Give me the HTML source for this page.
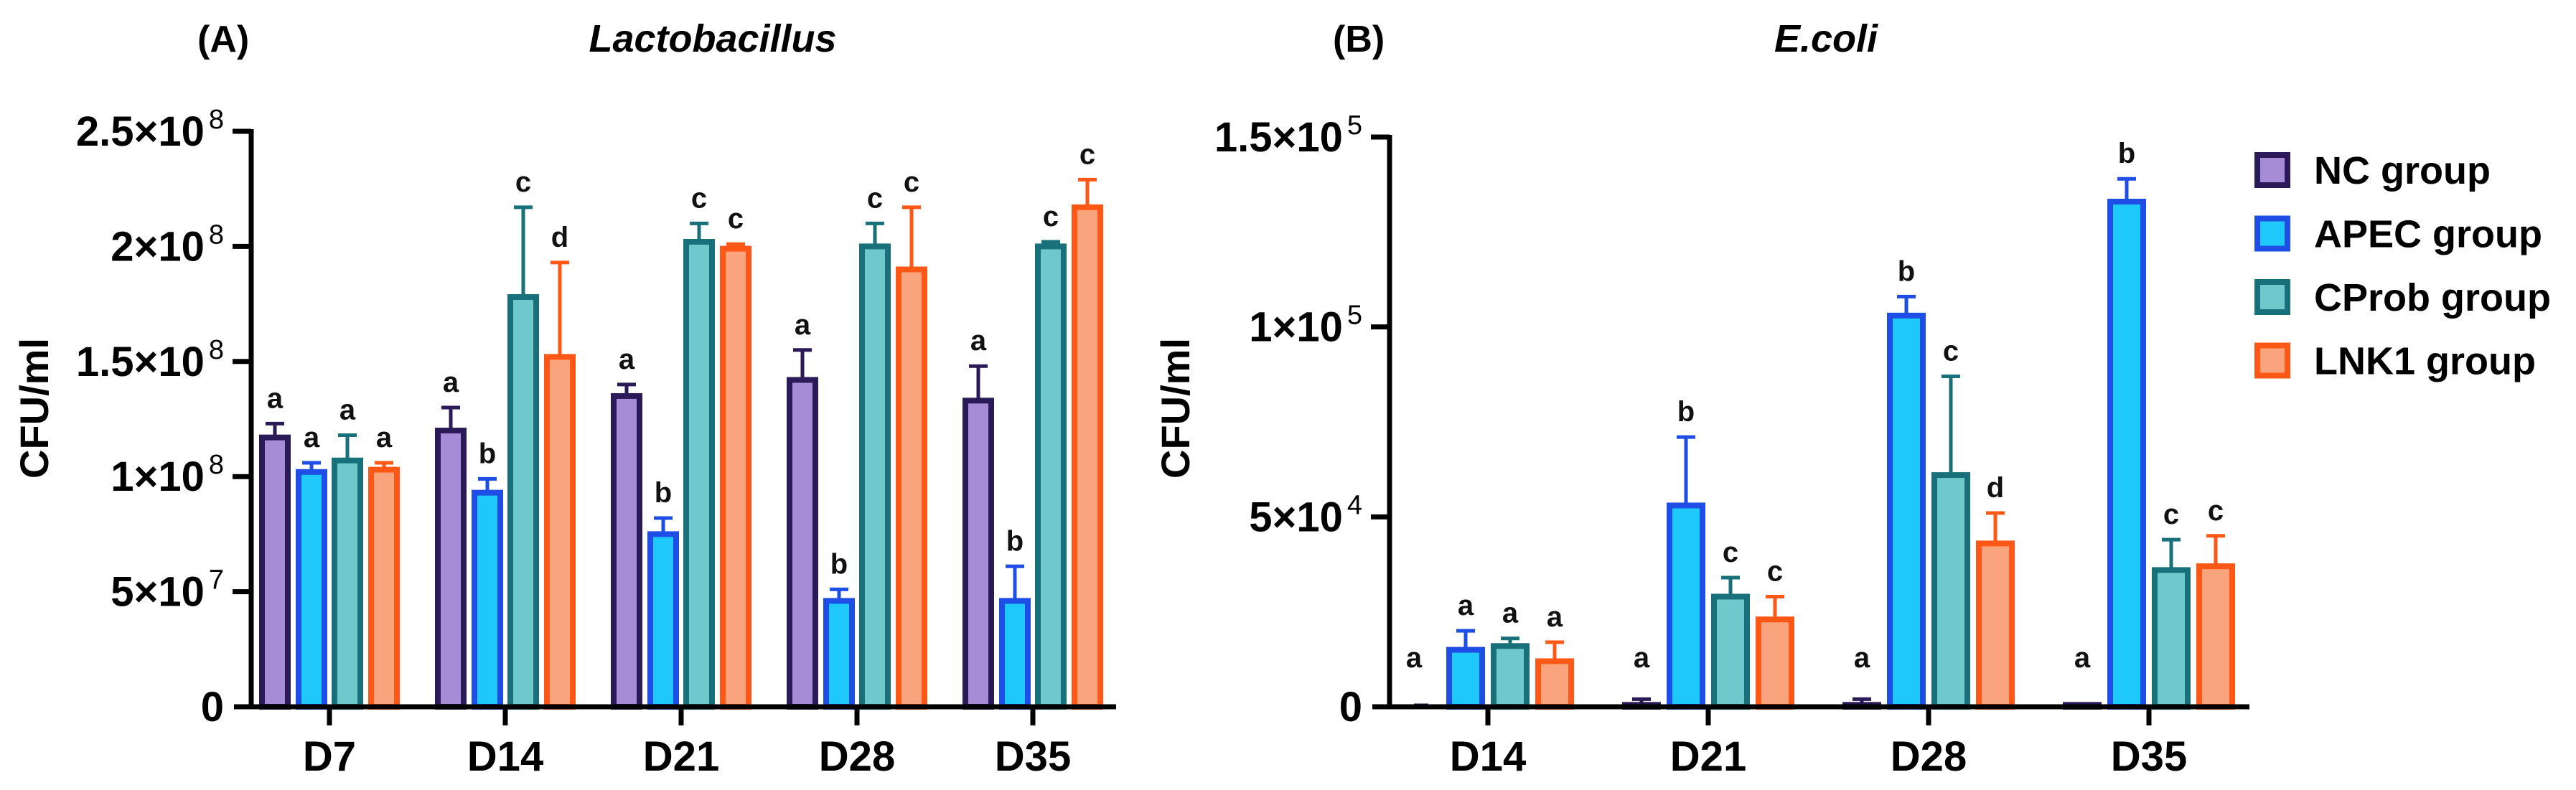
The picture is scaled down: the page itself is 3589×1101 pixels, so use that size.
<!DOCTYPE html>
<html><head><meta charset="utf-8">
<style>
html,body{margin:0;padding:0;background:#fff;}
svg{display:block;font-family:"Liberation Sans",Arial,sans-serif;font-weight:bold;}
</style></head>
<body>
<svg id="chart" width="3589" height="1101" viewBox="0 0 3589 1101" xmlns="http://www.w3.org/2000/svg">
<g id="gA"></g>
<g id="gB"></g>
<g id="legend"></g>
</svg>
<script>
const groups = ["NC group","APEC group","CProb group","LNK1 group"];
const fills = ["#a68bd6","#1ec8fb","#6fc8cc","#f9a47c"];
const strokes = ["#2b1a58","#1f4ee6","#17707a","#ff5816"];

const daysA = ["D7","D14","D21","D28","D35"];
const ncA = [1.17,1.20,1.35,1.42,1.33];
const ncAerr = [0.06,0.10,0.05,0.13,0.15];
const apecA = [1.02,0.93,0.75,0.46,0.46];
const apecAerr = [0.04,0.06,0.07,0.05,0.15];
const cprobA = [1.07,1.78,2.02,2.00,2.00];
const cprobAerr = [0.11,0.39,0.08,0.10,0.02];
const lnkA = [1.03,1.52,1.99,1.90,2.17];
const lnkAerr = [0.03,0.41,0.02,0.27,0.12];
const lettersA = [["a","a","a","a","a"],["a","b","c","d"],["a","b","c","c"],["a","b","c","c"],["a","b","c","c"]];
const ticksA = [0,0.5,1,1.5,2,2.5];
const tickLabelsA = [["0",""],["5×10","7"],["1×10","8"],["1.5×10","8"],["2×10","8"],["2.5×10","8"]];

const daysB = ["D14","D21","D28","D35"];
const ncB = [0,0.05,0.05,0.05];
const ncBerr = [0,0.15,0.15,0];
const apecB = [1.5,5.3,10.3,13.3];
const apecBerr = [0.5,1.8,0.5,0.6];
const cprobB = [1.6,2.9,6.1,3.6];
const cprobBerr = [0.2,0.5,2.6,0.8];
const lnkB = [1.2,2.3,4.3,3.7];
const lnkBerr = [0.5,0.6,0.8,0.8];
const lettersB = [["a","a","a","a"],["a","b","c","c"],["a","b","c","d"],["a","b","c","c"]];
const ticksB = [0,5,10,15];
const tickLabelsB = [["0",""],["5×10","4"],["1×10","5"],["1.5×10","5"]];

const NS="http://www.w3.org/2000/svg";
function mk(parent,tag,attrs,text){const e=document.createElementNS(NS,tag);for(const k in attrs)e.setAttribute(k,attrs[k]);if(text!==undefined)e.textContent=text;parent.appendChild(e);return e;}

function panel(g,cfg){
  const y=v=>cfg.y0-(v/cfg.vmax)*(cfg.y0-cfg.yTop);
  const x=i=>cfg.x0cat+i*cfg.step;
  const series=[cfg.nc,cfg.apec,cfg.cprob,cfg.lnk];
  const errs=[cfg.ncE,cfg.apecE,cfg.cprobE,cfg.lnkE];
  cfg.days.forEach((d,i)=>{
    series.forEach((s,k)=>{
      const cx=x(i)+cfg.offs[k];
      const v=s[i], top=y(v);
      const hasBar = cfg.y0-top>1;
      const e=errs[k][i];
      if(e>0){
        const et=y(v+e);
        const l=mk(g,'line',{x1:cx,x2:cx,y1:top,y2:et,stroke:strokes[k],'stroke-width':5});
        
        
        const c=mk(g,'line',{x1:cx-13,x2:cx+13,y1:et,y2:et,stroke:strokes[k],'stroke-width':5});
        
        
      }
      if(hasBar){
        const r=mk(g,'rect',{x:cx-cfg.bw/2,y:top,width:cfg.bw,height:cfg.y0-top,fill:fills[k],stroke:strokes[k],'stroke-width':8});
        
        
      } else {
        const r=mk(g,'line',{x1:cx-10,x2:cx+10,y1:top-2,y2:top-2,stroke:strokes[k],'stroke-width':5});
        
        
      }
      const lt=cfg.letters[i][k];
      if(lt){
        let ly=y(v+e)-22;
        if(cfg.ncLetterFixed && k===0) ly=cfg.ncLetterFixed;
        const t=mk(g,'text',{x:cx+(cfg.ncLetterFixed&&k===0&&i===0?-10:0),y:ly,'text-anchor':'middle','font-size':40,fill:'#111'},lt);
        
        
      }
    });
  });
  const ax=mk(g,'line',{x1:cfg.axX,x2:cfg.axX,y1:cfg.yTop-3,y2:cfg.y0+3,stroke:'#000','stroke-width':7});
  
  
  const xa=mk(g,'line',{x1:cfg.axX-24,x2:cfg.xEnd,y1:cfg.y0,y2:cfg.y0,stroke:'#000','stroke-width':7});
  
  
  cfg.ticks.forEach((tv,j)=>{
    const ty=y(tv);
    if(j>0){const tl=mk(g,'line',{x1:cfg.axX-26,x2:cfg.axX,y1:ty,y2:ty,stroke:'#000','stroke-width':7});
      
      }
    const lab=cfg.tickLabels[j];
    const t=mk(g,'text',{x:cfg.axX-38,y:ty+20,'text-anchor':'end','font-size':58,fill:'#000'});
    
    
    mk(t,'tspan',{},lab[0]);
    if(lab[1]) mk(t,'tspan',{dy:-24,'font-size':38,'font-weight':'normal',dx:6},lab[1]);
  });
  cfg.days.forEach((d,i)=>{
    const tk=mk(g,'line',{x1:x(i),x2:x(i),y1:cfg.y0,y2:cfg.y0+26,stroke:'#000','stroke-width':7});
    
    
    const t=mk(g,'text',{x:x(i),y:1074,'text-anchor':'middle','font-size':58,fill:'#000'},d);
    
    
  });
  const yt=mk(g,'text',{x:0,y:0,'text-anchor':'middle','font-size':56,fill:'#000',transform:`translate(${cfg.ytX},${cfg.ytY}) rotate(-90)`},'CFU/ml');
  
  
  const pl=mk(g,'text',{x:cfg.plX,y:72,'font-size':52,fill:'#000'},cfg.pl);
  
  
  const ti=mk(g,'text',{x:cfg.tiX,y:72,'text-anchor':'middle','font-size':54,'font-style':'italic',fill:'#000'},cfg.title);
  
  
}

panel(document.getElementById('gA'),{days:daysA,nc:ncA,apec:apecA,cprob:cprobA,lnk:lnkA,ncE:ncAerr,apecE:apecAerr,cprobE:cprobAerr,lnkE:lnkAerr,
  letters:lettersA,ticks:ticksA,tickLabels:tickLabelsA,vmax:2.5,y0:985,yTop:183,axX:350,xEnd:1555,x0cat:459,step:245,
  offs:[-76,-25,25,76],bw:36,ytX:67,ytY:569,pl:'(A)',plX:275,title:'Lactobacillus',tiX:993});
panel(document.getElementById('gB'),{days:daysB,nc:ncB,apec:apecB,cprob:cprobB,lnk:lnkB,ncE:ncBerr,apecE:apecBerr,cprobE:cprobBerr,lnkE:lnkBerr,
  letters:lettersB,ticks:ticksB,tickLabels:tickLabelsB,vmax:15,y0:985,yTop:191,axX:1936,xEnd:3134,x0cat:2073,step:307,
  offs:[-93,-31,31,93],bw:46,ytX:1657,ytY:569,pl:'(B)',plX:1857,title:'E.coli',tiX:2544,ncLetterFixed:930});

const lg=document.getElementById('legend');
groups.forEach((n,k)=>{
  const cy=237+k*88.5;
  const r=mk(lg,'rect',{x:3145,y:cy-21,width:42,height:42,fill:fills[k],stroke:strokes[k],'stroke-width':8});
  
  
  const t=mk(lg,'text',{x:3224,y:cy+19,'font-size':54,fill:'#000'},n);
  
  
});
</script>
</body></html>
